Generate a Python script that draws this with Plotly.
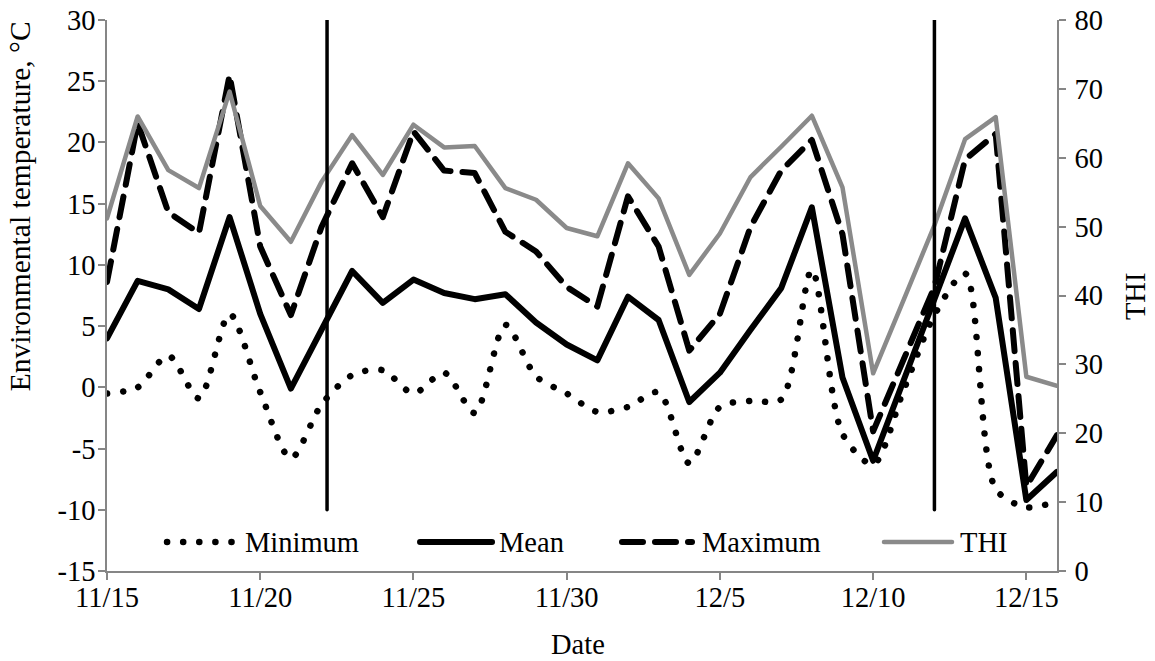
import pandas as pd
import plotly.graph_objects as go

# ---------------- data ----------------
start_date = "2014-11-15"
end_date = "2014-12-16"
dates = pd.date_range(start_date, end_date, freq="D")

minimum = [-0.5, 0.0, 2.6, -0.9, 6.0, -0.4, -5.8, -1.4, 1.0, 1.4, -0.5, 1.2, -2.1, 5.1, 0.9, -0.5,
           -2.0, -1.6, -0.4, -6.2, -1.6, -1.1, -1.0, 9.6, -3.8, -6.3, -0.2, 5.9, 9.3, -8.3, -9.8, -9.3]
mean = [4.0, 8.7, 8.0, 6.4, 13.9, 6.0, -0.1, 4.8, 9.5, 6.9, 8.8, 7.7, 7.2, 7.6, 5.3, 3.5,
        2.2, 7.4, 5.5, -1.2, 1.2, 4.7, 8.1, 14.7, 0.8, -6.0, 0.5, 7.0, 13.8, 7.3, -9.2, -6.9]
maximum = [8.6, 21.6, 14.3, 12.6, 25.5, 11.5, 5.9, 13.1, 18.3, 13.9, 20.9, 17.7, 17.5, 12.7, 11.1, 8.2,
           6.6, 15.6, 11.5, 3.0, 6.0, 13.1, 17.7, 20.2, 12.5, -3.6, 2.3, 8.2, 18.6, 20.7, -8.1, -3.9]
thi = [51.2, 66.0, 58.2, 55.6, 69.6, 53.0, 47.8, 56.5, 63.3, 57.5, 64.8, 61.5, 61.7, 55.6, 53.9, 49.8,
       48.6, 59.2, 54.1, 43.0, 49.0, 57.2, 61.6, 66.1, 55.7, 28.7, 39.4, 50.2, 62.7, 65.9, 28.2, 26.9]

tick_dates = ["2014-11-15", "2014-11-20", "2014-11-25", "2014-11-30",
              "2014-12-05", "2014-12-10", "2014-12-15"]
tick_labels = ["11/15", "11/20", "11/25", "11/30", "12/5", "12/10", "12/15"]

temp_ticks = [-15, -10, -5, 0, 5, 10, 15, 20, 25, 30]
temp_tick_labels = ["-15", "-10", "-5", "0", "5", "10", "15", "20", "25", "30"]
thi_ticks = [0, 10, 20, 30, 40, 50, 60, 70, 80]
thi_tick_labels = ["0", "10", "20", "30", "40", "50", "60", "70", "80"]

event_dates = ["2014-11-22 04:20", "2014-12-12 00:00"]

series_names = ["Minimum", "Mean", "Maximum", "THI"]
x_title = "Date"
y_title = "Environmental temperature, °C"
y2_title = "THI"

# ---------------- styles ----------------
FONT = "Liberation Serif"
FS = 28.5
AXIS_GREY = "#868686"
THI_GREY = "#8a8a8a"
DOT = "0.1px,16px"
DASH = "21px,12px"

fig = go.Figure()

fig.add_trace(go.Scatter(x=dates, y=minimum, name=series_names[0], mode="lines",
                         line=dict(color="black", width=6.5, dash=DOT, shape="spline", smoothing=0.8),
                         showlegend=False))
fig.add_trace(go.Scatter(x=dates, y=mean, name=series_names[1], mode="lines",
                         line=dict(color="black", width=6), showlegend=False))
fig.add_trace(go.Scatter(x=dates, y=maximum, name=series_names[2], mode="lines",
                         line=dict(color="black", width=6, dash=DASH), showlegend=False))
fig.add_trace(go.Scatter(x=dates, y=thi, name=series_names[3], mode="lines", yaxis="y2",
                         line=dict(color=THI_GREY, width=4.5), showlegend=False))

# vertical event lines
for d in event_dates:
    fig.add_shape(type="line", xref="x", yref="y", x0=d, x1=d, y0=-10, y1=30,
                  line=dict(color="black", width=3.5), layer="above")

# manual legend (line samples + labels), in paper coordinates
leg_y = 0.0526
leg_lines = [(0.0632, 0.1358), (0.3295, 0.4053), (0.5421, 0.6158), (0.8179, 0.8895)]
leg_text_x = [0.1432, 0.4105, 0.6242, 0.8958]
leg_styles = [
    dict(color="black", width=6.5, dash=DOT),
    dict(color="black", width=6),
    dict(color="black", width=6, dash=DASH),
    dict(color=THI_GREY, width=4.5),
]
for (x0, x1), tx, st, name in zip(leg_lines, leg_text_x, leg_styles, series_names):
    fig.add_shape(type="line", xref="paper", yref="paper", x0=x0, x1=x1, y0=leg_y, y1=leg_y,
                  line=st, layer="above")
    fig.add_annotation(xref="paper", yref="paper", x=tx, y=leg_y, text=name, showarrow=False,
                       xanchor="left", yanchor="middle", font=dict(family=FONT, size=FS, color="black"))

# axis titles
fig.add_annotation(xref="paper", yref="paper", x=-0.0916, y=0.662, text=y_title,
                   textangle=-90, showarrow=False, xanchor="center", yanchor="middle",
                   font=dict(family=FONT, size=29.5, color="black"))
fig.add_annotation(xref="paper", yref="paper", x=1.0821, y=0.499, text=y2_title,
                   textangle=-90, showarrow=False, xanchor="center", yanchor="middle",
                   font=dict(family=FONT, size=FS, color="black"))
fig.add_annotation(xref="paper", yref="paper", x=0.4958, y=-0.1343, text=x_title,
                   showarrow=False, xanchor="center", yanchor="middle",
                   font=dict(family=FONT, size=FS, color="black"))

axis_common = dict(showgrid=False, zeroline=False, showline=True, linecolor=AXIS_GREY, linewidth=1.5,
                   ticks="outside", ticklen=7, tickcolor=AXIS_GREY, tickwidth=1.5, automargin=False,
                   tickfont=dict(family=FONT, size=FS, color="black"))

fig.update_layout(
    width=1155, height=661, autosize=False,
    margin=dict(l=107, r=98, t=20, b=90),
    paper_bgcolor="white", plot_bgcolor="white",
    font=dict(family=FONT, size=FS, color="black"),
    xaxis=dict(type="date", range=[start_date, end_date], tickvals=tick_dates, ticktext=tick_labels,
               ticklabelstandoff=-7, **axis_common),
    yaxis=dict(range=[-15, 30], tickvals=temp_ticks, ticktext=temp_tick_labels,
               ticklabelstandoff=-3, **axis_common),
    yaxis2=dict(range=[0, 80], tickvals=thi_ticks, ticktext=thi_tick_labels,
                ticklabelstandoff=3, overlaying="y", side="right", **axis_common),
)

post = """
var gd = document.getElementById('{plot_id}');
function fixCaps(){
  gd.querySelectorAll('.scatterlayer path.js-line, .shapelayer path').forEach(function(p){
    p.style.strokeLinecap = 'round';
    p.style.strokeLinejoin = 'round';
  });
}
fixCaps();
if (gd.on) { gd.on('plotly_afterplot', fixCaps); }
setTimeout(fixCaps, 50);
"""

fig.write_html("out.html", post_script=post)
